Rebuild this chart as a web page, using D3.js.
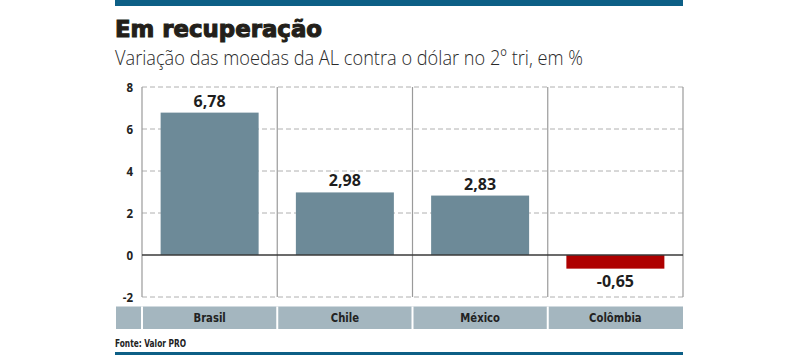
<!DOCTYPE html>
<html><head><meta charset="utf-8">
<script src="https://cdn.jsdelivr.net/npm/d3@7"></script>
<style>body{margin:0;background:#fff}svg{display:block}</style>
</head><body>
<script>
const categories = ["Brasil", "Chile", "México", "Colômbia"];
const values = [6.78, 2.98, 2.83, -0.65];
const valueLabels = ["6,78", "2,98", "2,83", "-0,65"];
const yTicks = [-2, 0, 2, 4, 6, 8];
const title = "Em recuperação";
const subtitle = "Variação das moedas da AL contra o dólar no 2º tri, em %";
const source = "Fonte: Valor PRO";

const W = 800, H = 355;
const svg = d3.select("body").append("svg").attr("width", W).attr("height", H);
const cond = "'DejaVu Sans Condensed','Liberation Sans Narrow',sans-serif";

const left = 142, right = 683;
const x = d3.scaleBand().domain(categories).range([left, right]).paddingInner(0).paddingOuter(0);
const y = d3.scaleLinear().domain([-2, 8]).range([297, 87]);

// top & bottom rules
svg.append("rect").attr("x", 115).attr("y", 0).attr("width", right - 115).attr("height", 6).attr("fill", "#0d5f86");
svg.append("rect").attr("x", 115).attr("y", 352).attr("width", right - 115).attr("height", 3).attr("fill", "#0d5f86");

svg.append("text").attr("x", 115).attr("y", 37).attr("font-family", "'DejaVu Sans','Liberation Sans',sans-serif")
  .attr("font-weight", "bold").attr("font-size", 23).attr("fill", "#231f1a")
  .attr("stroke", "#231f1a").attr("stroke-width", 1.1)
  .attr("textLength", 207).attr("lengthAdjust", "spacingAndGlyphs").text(title);
svg.append("text").attr("x", 115).attr("y", 65).attr("font-family", "'Open Sans','Liberation Sans',sans-serif")
  .attr("font-weight", 300).attr("font-size", 21).attr("fill", "#2a2a2a")
  .attr("textLength", 468).attr("lengthAdjust", "spacingAndGlyphs").text(subtitle);

// gridlines
const g = svg.append("g");
g.selectAll("line.grid").data(yTicks.filter(d => d !== 0)).join("line")
  .attr("x1", left).attr("x2", right).attr("y1", d => y(d)).attr("y2", d => y(d))
  .attr("stroke", "#b0b0b0").attr("stroke-width", 1).attr("stroke-dasharray", "5,3");

// vertical dividers
const divs = categories.map(c => x(c)).concat([right]);
g.selectAll("line.div").data(divs).join("line")
  .attr("x1", d => d).attr("x2", d => d).attr("y1", y(8)).attr("y2", y(-2))
  .attr("stroke", "#9a9a9a").attr("stroke-width", 1.2);

// bars
const bw = 98;
g.selectAll("rect.bar").data(categories).join("rect")
  .attr("x", c => x(c) + x.bandwidth() / 2 - bw / 2)
  .attr("width", bw)
  .attr("y", (c, i) => y(Math.max(0, values[i])))
  .attr("height", (c, i) => Math.abs(y(values[i]) - y(0)))
  .attr("fill", (c, i) => values[i] < 0 ? "#ae0000" : "#6d8a98");

// zero line
g.append("line").attr("x1", left).attr("x2", right).attr("y1", y(0)).attr("y2", y(0))
  .attr("stroke", "#3a3a3a").attr("stroke-width", 1.3);

// value labels
g.selectAll("text.val").data(categories).join("text")
  .attr("x", c => x(c) + x.bandwidth() / 2)
  .attr("y", (c, i) => values[i] >= 0 ? y(values[i]) - 6 : y(values[i]) + 18)
  .attr("text-anchor", "middle").attr("font-family", "'Open Sans','DejaVu Sans',sans-serif")
  .attr("font-weight", "bold").attr("font-size", 16).attr("fill", "#1e1e1e")
  .text((c, i) => valueLabels[i]);

// y axis
const yAxis = d3.axisLeft(y).tickValues(yTicks).tickSize(0).tickPadding(0).tickFormat(d3.format("d"));
const ya = svg.append("g").attr("transform", `translate(133,0)`).call(yAxis);
ya.select(".domain").remove();
ya.selectAll("text").attr("font-family", "'Open Sans','DejaVu Sans',sans-serif").attr("font-weight", "bold")
  .attr("font-size", 11.5).attr("fill", "#222").attr("dy", "0.35em").text(d => d < 0 ? "-" + Math.abs(d) : d);

// category band
svg.append("rect").attr("x", 116).attr("y", 306.5).attr("width", right - 116).attr("height", 22.5).attr("fill", "#a4b6bf");
svg.selectAll("line.sep").data(categories.map(c => x(c))).join("line")
  .attr("x1", d => d).attr("x2", d => d).attr("y1", 306.5).attr("y2", 329)
  .attr("stroke", "#fff").attr("stroke-width", 2);
const xAxis = d3.axisBottom(x).tickSize(0).tickPadding(0);
const xa = svg.append("g").attr("transform", "translate(0,322)").call(xAxis);
xa.select(".domain").remove();
xa.selectAll("text").attr("dy", 0).attr("font-family", cond).attr("font-weight", "bold")
  .attr("font-size", 13).attr("fill", "#222")
  .attr("transform", function() { return "translate(" + 0 + ",0)"; })
  .each(function() {
    const el = d3.select(this);
    const len = this.getComputedTextLength();
    el.attr("textLength", len * 0.86).attr("lengthAdjust", "spacingAndGlyphs");
  });

svg.append("text").attr("x", 115).attr("y", 347).attr("font-family", cond).attr("font-weight", "bold")
  .attr("font-size", 11).attr("fill", "#222")
  .attr("textLength", 71).attr("lengthAdjust", "spacingAndGlyphs").text(source);
</script>
</body></html>
